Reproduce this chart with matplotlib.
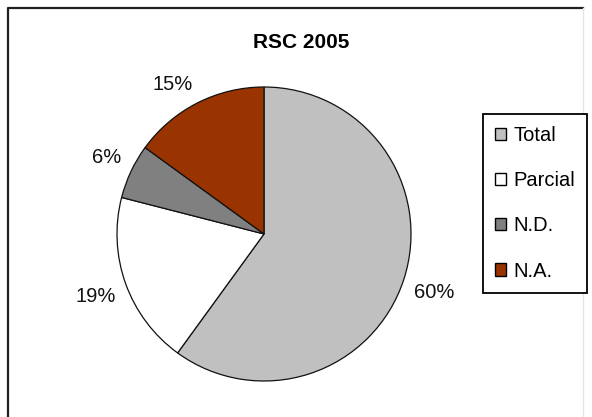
import numpy as np
import matplotlib
matplotlib.use('Agg')
import matplotlib.pyplot as plt
from matplotlib.patches import Patch
from matplotlib.lines import Line2D

plt.rcParams['font.family'] = ['Liberation Sans', 'DejaVu Sans']

# data
title = 'RSC 2005'
labels = ['Total', 'Parcial', 'N.D.', 'N.A.']
shares = [60, 19, 6, 15]
colors = ['#C0C0C0', '#FFFFFF', '#808080', '#993300']

W, H = 592, 417
fig = plt.figure(figsize=(W / 100.0, H / 100.0), dpi=100)
fig.patch.set_facecolor('white')

# marco del area del grafico (cortado abajo, borde derecho tenue)
def px(x, y):
    return x / float(W), 1 - y / float(H)

x0, y0 = px(7.5, 7.5)
x1, y1 = px(583, 420)
fig.lines.append(Line2D([x0, x0, x1], [y1, y0, y0], transform=fig.transFigure,
                        color='#202020', linewidth=1.6))
fig.lines.append(Line2D([x1, x1], [y0, y1], transform=fig.transFigure,
                        color='#e4e4e4', linewidth=1.0))

cx, cy, r = 264, 234, 147
ax = fig.add_axes([(cx - r) / W, (H - cy - r) / H, 2.0 * r / W, 2.0 * r / H])
wedges, _ = ax.pie(shares, colors=colors, startangle=90, counterclock=False,
                   wedgeprops=dict(edgecolor='#111111', linewidth=0.9))
ax.set_xlim(-1, 1)
ax.set_ylim(-1, 1)

# etiquetas de porcentaje
for w, s in zip(wedges, shares):
    ang = np.deg2rad((w.theta1 + w.theta2) / 2.0)
    x, y = 1.07 * np.cos(ang), 1.07 * np.sin(ang)
    ha = 'left' if x > 0 else 'right'
    if y > 0.2:
        va = 'bottom'
    elif y < -0.2:
        va = 'top'
    else:
        va = 'center'
    ax.text(x, y, '%d%%' % s, ha=ha, va=va, fontsize=14.5, color='#111111')

tx, ty = px(301, 42)
fig.text(tx, ty, title, ha='center', va='center',
         fontsize=15, fontweight='bold')

handles = [Patch(facecolor=c, edgecolor='black', linewidth=1.0) for c in colors]
leg = fig.legend(handles, labels, loc='upper left',
                 bbox_to_anchor=px(483, 114),
                 fontsize=14.5, frameon=True, fancybox=False, shadow=False,
                 framealpha=1, edgecolor='black', handlelength=0.55,
                 handleheight=0.55, handletextpad=0.35, labelspacing=1.3,
                 borderpad=0.6, borderaxespad=0)
leg.get_frame().set_linewidth(1.3)

plt.savefig('out.png', dpi=100)
